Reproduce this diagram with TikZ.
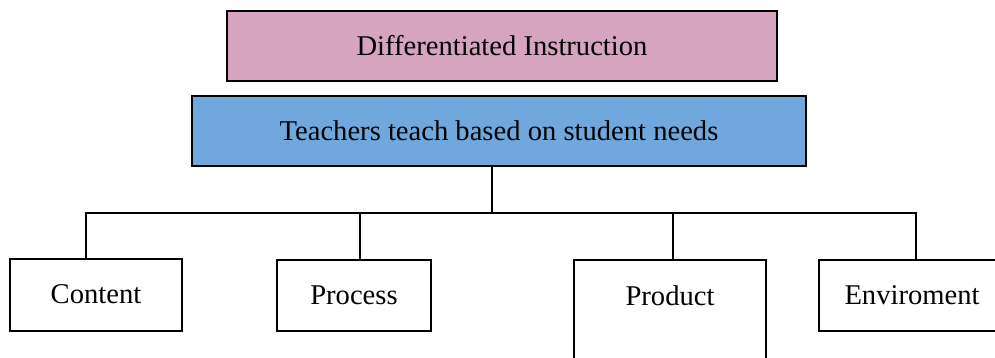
\documentclass[tikz,border=0pt]{standalone}
\usepackage{fontspec}
\setmainfont{Liberation Serif}
\definecolor{pinkfill}{RGB}{214,164,190}
\definecolor{bluefill}{RGB}{111,168,220}
\begin{document}
\begin{tikzpicture}[x=1pt,y=1pt,
  box/.style={draw=black, line width=2pt, inner sep=0pt, font=\fontsize{28.6}{32}\selectfont, align=center},
  conn/.style={draw=black, line width=2pt}]
\useasboundingbox (0,0) rectangle (995,-358);
\clip (0,0) rectangle (995,-358);
\node[box, fill=pinkfill, minimum width=550, minimum height=70] (di) at (502,-46) {Differentiated Instruction};
\node[box, fill=bluefill, minimum width=614, minimum height=70] (tt) at (499,-131) {Teachers teach based on student needs};
\node[box, minimum width=172, minimum height=72] (content) at (96,-294.5) {Content};
\node[box, minimum width=154, minimum height=71] (process) at (354,-295.5) {Process};
\node[box, minimum width=192, text height=45, text depth=97, anchor=north] (product) at (670,-259) {Product};
\node[box, minimum width=186, minimum height=71] (env) at (912,-295.5) {Enviroment};
\coordinate (j0) at (492,-213);
\coordinate (j1) at (86,-213);
\coordinate (j2) at (360,-213);
\coordinate (j3) at (673,-213);
\coordinate (j4) at (916,-213);
\draw[conn] (j0) -- (j0 |- tt.south);
\draw[conn, line cap=rect] (j1) -- (j4);
\draw[conn] (j1) -- (j1 |- content.north);
\draw[conn] (j2) -- (j2 |- process.north);
\draw[conn] (j3) -- (j3 |- product.north);
\draw[conn] (j4) -- (j4 |- env.north);
\end{tikzpicture}
\end{document}
